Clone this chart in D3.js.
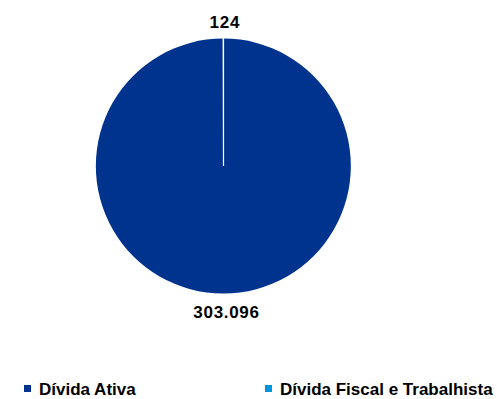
<!DOCTYPE html>
<html>
<head>
<meta charset="utf-8">
<script src="https://cdn.jsdelivr.net/npm/d3@7"></script>
<style>
  body { margin: 0; background: #fff; }
  svg { display: block; }
  text { font-family: "Liberation Sans", Arial, sans-serif; font-weight: bold; fill: #000; }
</style>
</head>
<body>
<svg width="497" height="399"></svg>
<script>
var categories = ['Dívida Ativa', 'Dívida Fiscal e Trabalhista']
var values = [303096, 124]
var labels = ['303.096', '124']
var colors = ['#00338d', '#0096db']

var svg = d3.select('svg')
var cx = 223.5, cy = 166, radius = 127.5

var data = categories.map((c, i) => ({ name: c, value: values[i], label: labels[i], color: colors[i] }))

var pie = d3.pie().sort(null).value(d => d.value)
var arc = d3.arc().innerRadius(0).outerRadius(radius)

var g = svg.append('g').attr('transform', `translate(${cx},${cy})`)

var arcs = pie(data)

g.selectAll('path')
    .data(arcs)
    .enter().append('path')
    .attr('d', arc)
    .style('fill', d => d.data.color)
    .style('stroke', '#fff')
    .style('stroke-width', d => d.index == 1 ? 1.2 : 0)

// value labels outside the pie
g.selectAll('text.val')
    .data(arcs)
    .enter().append('text')
    .attr('class', 'val')
    .attr('text-anchor', 'middle')
    .attr('x', (d, i) => {
        let a = (d.startAngle + d.endAngle) / 2
        return i == 0 ? 3 : Math.sin(a) * (radius + 18) + 1.5
    })
    .attr('y', (d, i) => {
        let a = (d.startAngle + d.endAngle) / 2
        return i == 0 ? 152 : -Math.cos(a) * (radius + 11)
    })
    .style('font-size', '17px')
    .style('letter-spacing', '0.7px')
    .text(d => d.data.label)

// legend
var legendX = [24, 265]
var legend = svg.selectAll('g.legend')
    .data(data)
    .enter().append('g')
    .attr('class', 'legend')
    .attr('transform', (d, i) => `translate(${legendX[i]},385)`)

legend.append('rect')
    .attr('x', 0).attr('y', 0)
    .attr('width', 7).attr('height', 7)
    .style('fill', d => d.color)

legend.append('text')
    .attr('x', 15).attr('y', 9.5)
    .style('font-size', '17px')
    .text(d => d.name)
</script>
</body>
</html>
